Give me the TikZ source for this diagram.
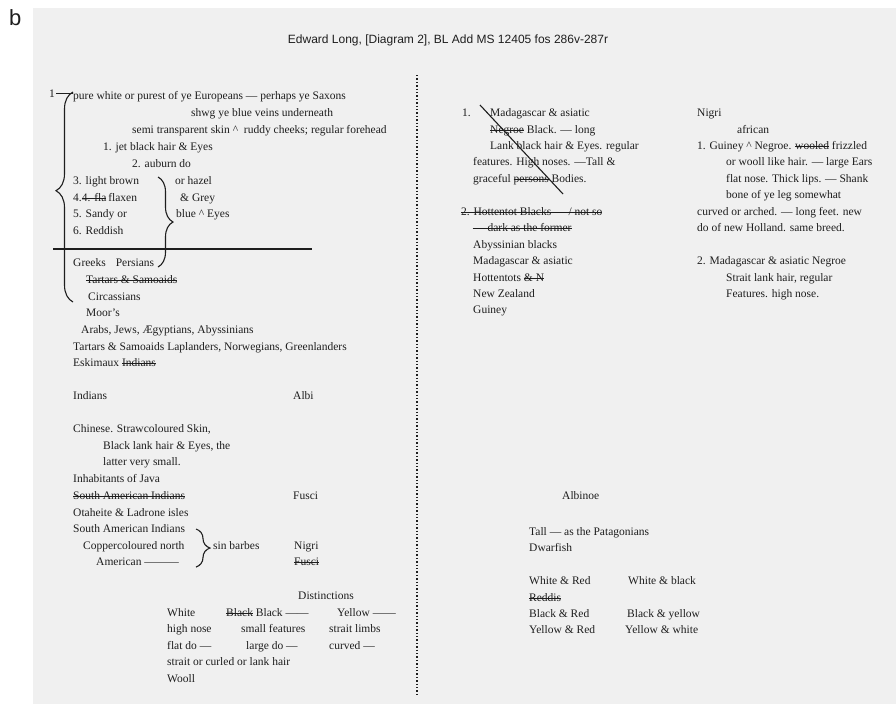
\documentclass[tikz,border=0pt]{standalone}
\usepackage{fontspec}
\setmainfont{Liberation Serif}
\newfontfamily\sansfam{Liberation Sans}
\usepackage{tikz}
\usetikzlibrary{decorations.pathreplacing}
\definecolor{ink}{HTML}{1E1E1E}
\definecolor{panel}{HTML}{F0F0F0}
\newcommand{\crt}{\textasciicircum}
\newcommand{\strk}[1]{\leavevmode\setbox0\hbox{#1}\rlap{\rule[0.28em]{\wd0}{0.55pt}}\box0\relax}
\tikzset{
  txt/.style={anchor=mid west, inner sep=0pt, text=ink, font=\fontsize{11.5}{13}\selectfont},
  head/.style={inner sep=0pt, text=ink, font=\sansfam\fontsize{12}{14}\selectfont},
  stroke/.style={draw=ink, line width=1.1pt},
  brc/.style={stroke, decorate, decoration={brace, amplitude=#1}},
  sep/.style={draw=ink, line width=1.3pt, dash pattern=on 1.3pt off 2.1pt}
}

\begin{document}
\begin{tikzpicture}[x=1pt,y=-1pt]
\useasboundingbox (0,0) rectangle (896,704);
\fill[white] (0,0) rectangle (896,704);
\fill[panel] (33,8) rectangle (896,704);
\node[head, font=\sansfam\fontsize{22}{24}\selectfont, anchor=north west] (panel) at (9,9) {b};
\node[head] (title) at (448,40) {Edward Long, [Diagram 2], BL Add MS 12405 fos 286v-287r};
% divider
\coordinate (divtop) at (417,75);
\coordinate (divbot) at (417,697);
\draw[sep] (divtop) -- (divbot);

% left column: Albi
\node[txt] (one) at (49,95) {1};
\node[txt] (pure) at (73,97) {pure white or purest of ye Europeans — perhaps ye Saxons};
\node[txt] (shwg) at (191,114) {shwg ye blue veins underneath};
\node[txt] (semi) at (132,131) {semi transparent skin \crt\ \ ruddy cheeks; regular forehead};
\node[txt] (jet) at (103,148) {1. jet black hair \& Eyes};
\node[txt] (auburn) at (132,165) {2. auburn do};
\node[txt] (lbrown) at (73,182) {3. light brown};
\node[txt] (hazel) at (175,182) {or hazel};
\node[txt] (flaxen) at (73,199) {4.\strk{4. fla}\,flaxen};
\node[txt] (grey) at (180,199) {\& Grey};
\node[txt] (sandy) at (73,215) {5. Sandy or};
\node[txt] (blue) at (176,215) {blue \crt\ Eyes};
\node[txt] (reddish) at (73,232) {6. Reddish};
\coordinate (bigtop) at (73,92);
\coordinate (bigbot) at (73,302);
\draw[brc=17pt, decoration={aspect=0.53}] (bigbot) -- (bigtop);
\draw[stroke] (one.east) ++(1,0) coordinate (dash) -- (bigtop |- one);
\coordinate (eyetop) at (158,177);
\coordinate (eyebot) at (158,267);
\draw[brc=15pt] (eyetop) -- (eyebot);
\coordinate (rulel) at (53,249);
\coordinate (ruler) at (312,249);
\draw[stroke, line width=1.3pt] (rulel) -- (ruler);

\node[txt] (greeks) at (73,264) {Greeks\hspace{10pt}Persians};
\node[txt] (tartars) at (86,281) {\strk{Tartars \& Samoaids}};
\node[txt] (circ) at (88,298) {Circassians};
\node[txt] (moors) at (86,314) {Moor’s};
\node[txt] (arabs) at (81,331) {Arabs, Jews, Ægyptians, Abyssinians};
\node[txt] (lapl) at (73,348) {Tartars \& Samoaids Laplanders, Norwegians, Greenlanders};
\node[txt] (eski) at (73,364) {Eskimaux \strk{Indians}};

% left column: Indians
\node[txt] (indians) at (73,397) {Indians};
\node[txt] (albi) at (293,397) {Albi};
\node[txt] (chinese) at (73,430) {Chinese. Strawcoloured Skin,};
\node[txt] (lank) at (103,447) {Black lank hair \& Eyes, the};
\node[txt] (latter) at (103,463) {latter very small.};
\node[txt] (java) at (73,480) {Inhabitants of Java};
\node[txt] (saioff) at (73,497) {\strk{South American Indians}};
\node[txt] (fusci) at (293,497) {Fusci};
\node[txt] (otah) at (73,514) {Otaheite \& Ladrone isles};
\node[txt] (sai) at (73,530) {South American Indians};
\node[txt] (copper) at (83,547) {Coppercoloured north};
\node[txt] (amer) at (96,563) {American ———};
\coordinate (sintop) at (196,529);
\coordinate (sinbot) at (196,567);
\draw[brc=14pt] (sintop) -- (sinbot);
\node[txt] (sinb) at (213,547) {sin barbes};
\node[txt] (nigri) at (294,547) {Nigri};
\node[txt] (fuscioff) at (294,563) {\strk{Fusci}};

% distinctions
\node[txt] (dist) at (298,597) {Distinctions};
\node[txt] (white) at (167,614) {White};
\node[txt] (black) at (226,614) {\strk{Black} Black ——};
\node[txt] (yellow) at (337,614) {Yellow ——};
\node[txt] (highn) at (167,630) {high nose};
\node[txt] (smallf) at (241,630) {small features};
\node[txt] (straitl) at (329,630) {strait limbs};
\node[txt] (flat) at (167,647) {flat do —};
\node[txt] (large) at (246,647) {large do —};
\node[txt] (curved) at (329,647) {curved —};
\node[txt] (curled) at (167,663) {strait or curled or lank hair};
\node[txt] (wooll) at (167,680) {Wooll};

% right column: Fusci
\node[txt] (fone) at (462,114) {1.};
\node[txt] (madag) at (490,114) {Madagascar \& asiatic};
\node[txt] (negroe) at (490,131) {\strk{Negroe} Black. — long};
\node[txt] (lankb) at (490,147) {Lank black hair \& Eyes. regular};
\node[txt] (feat) at (473,163) {features. High noses. —Tall \&};
\node[txt] (grace) at (473,180) {graceful \strk{persons} Bodies.};
\coordinate (crossa) at (480,105);
\coordinate (crossb) at (563,194);
\draw[stroke] (crossa) -- (crossb);
\node[txt] (hott) at (461,213) {\strk{2. Hottentot Blacks — / not so}};
\node[txt] (dark) at (473,229) {\strk{— dark as the former}};
\node[txt] (abyss) at (473,246) {Abyssinian blacks};
\node[txt] (madag2) at (473,262) {Madagascar \& asiatic};
\node[txt] (hotts) at (473,279) {Hottentots \strk{\& N}};
\node[txt] (newz) at (473,295) {New Zealand};
\node[txt] (guiney) at (473,311) {Guiney};

% right column: Nigri
\node[txt] (nigr) at (697,114) {Nigri};
\node[txt] (afr) at (737,131) {african};
\node[txt] (guin) at (697,147) {1. Guiney \crt\ Negroe. \strk{wooled} frizzled};
\node[txt] (woolh) at (726,163) {or wooll like hair. — large Ears};
\node[txt] (flatn) at (726,180) {flat nose. Thick lips. — Shank};
\node[txt] (bone) at (726,196) {bone of ye leg somewhat};
\node[txt] (arch) at (697,213) {curved or arched. — long feet. new};
\node[txt] (holl) at (697,229) {do of new Holland. same breed.};
\node[txt] (madneg) at (697,262) {2. Madagascar \& asiatic Negroe};
\node[txt] (strl) at (726,279) {Strait lank hair, regular};
\node[txt] (feath) at (726,295) {Features. high nose.};

% Albinoe
\node[txt] (albin) at (562,497) {Albinoe};
\node[txt] (tall) at (529,533) {Tall — as the Patagonians};
\node[txt] (dwarf) at (529,549) {Dwarfish};
\node[txt] (wred) at (529,582) {White \& Red};
\node[txt] (wblack) at (628,582) {White \& black};
\node[txt] (reddis) at (529,599) {\strk{Reddis}};
\node[txt] (bred) at (529,615) {Black \& Red};
\node[txt] (byel) at (627,615) {Black \& yellow};
\node[txt] (yred) at (529,631) {Yellow \& Red};
\node[txt] (ywhite) at (625,631) {Yellow \& white};
\end{tikzpicture}
\end{document}
